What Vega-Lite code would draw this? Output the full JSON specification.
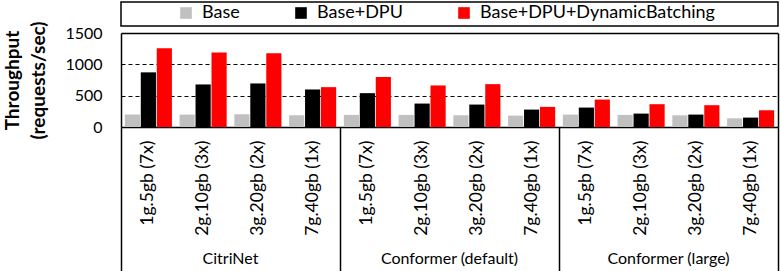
{
  "$schema": "https://vega.github.io/schema/vega-lite/v6.json",
  "padding": {"left": 3, "top": 1, "right": 2, "bottom": 0},
  "background": "white",
  "bounds": "flush",
  "spacing": 7,
  "config": {
    "font": "Lato",
    "view": {"stroke": null}
  },
  "datasets": {
    "tp": [
      {"group": "CitriNet", "config": "1g.5gb (7x)", "series": "Base", "value": 198},
      {"group": "CitriNet", "config": "1g.5gb (7x)", "series": "Base+DPU", "value": 872},
      {"group": "CitriNet", "config": "1g.5gb (7x)", "series": "Base+DPU+DynamicBatching", "value": 1257},
      {"group": "CitriNet", "config": "2g.10gb (3x)", "series": "Base", "value": 198},
      {"group": "CitriNet", "config": "2g.10gb (3x)", "series": "Base+DPU", "value": 679},
      {"group": "CitriNet", "config": "2g.10gb (3x)", "series": "Base+DPU+DynamicBatching", "value": 1187},
      {"group": "CitriNet", "config": "3g.20gb (2x)", "series": "Base", "value": 203},
      {"group": "CitriNet", "config": "3g.20gb (2x)", "series": "Base+DPU", "value": 695},
      {"group": "CitriNet", "config": "3g.20gb (2x)", "series": "Base+DPU+DynamicBatching", "value": 1176},
      {"group": "CitriNet", "config": "7g.40gb (1x)", "series": "Base", "value": 187},
      {"group": "CitriNet", "config": "7g.40gb (1x)", "series": "Base+DPU", "value": 599},
      {"group": "CitriNet", "config": "7g.40gb (1x)", "series": "Base+DPU+DynamicBatching", "value": 636},
      {"group": "Conformer (default)", "config": "1g.5gb (7x)", "series": "Base", "value": 193},
      {"group": "Conformer (default)", "config": "1g.5gb (7x)", "series": "Base+DPU", "value": 540},
      {"group": "Conformer (default)", "config": "1g.5gb (7x)", "series": "Base+DPU+DynamicBatching", "value": 797},
      {"group": "Conformer (default)", "config": "2g.10gb (3x)", "series": "Base", "value": 193},
      {"group": "Conformer (default)", "config": "2g.10gb (3x)", "series": "Base+DPU", "value": 374},
      {"group": "Conformer (default)", "config": "2g.10gb (3x)", "series": "Base+DPU+DynamicBatching", "value": 663},
      {"group": "Conformer (default)", "config": "3g.20gb (2x)", "series": "Base", "value": 187},
      {"group": "Conformer (default)", "config": "3g.20gb (2x)", "series": "Base+DPU", "value": 358},
      {"group": "Conformer (default)", "config": "3g.20gb (2x)", "series": "Base+DPU+DynamicBatching", "value": 684},
      {"group": "Conformer (default)", "config": "7g.40gb (1x)", "series": "Base", "value": 182},
      {"group": "Conformer (default)", "config": "7g.40gb (1x)", "series": "Base+DPU", "value": 278},
      {"group": "Conformer (default)", "config": "7g.40gb (1x)", "series": "Base+DPU+DynamicBatching", "value": 321},
      {"group": "Conformer (large)", "config": "1g.5gb (7x)", "series": "Base", "value": 198},
      {"group": "Conformer (large)", "config": "1g.5gb (7x)", "series": "Base+DPU", "value": 310},
      {"group": "Conformer (large)", "config": "1g.5gb (7x)", "series": "Base+DPU+DynamicBatching", "value": 438},
      {"group": "Conformer (large)", "config": "2g.10gb (3x)", "series": "Base", "value": 193},
      {"group": "Conformer (large)", "config": "2g.10gb (3x)", "series": "Base+DPU", "value": 214},
      {"group": "Conformer (large)", "config": "2g.10gb (3x)", "series": "Base+DPU+DynamicBatching", "value": 364},
      {"group": "Conformer (large)", "config": "3g.20gb (2x)", "series": "Base", "value": 187},
      {"group": "Conformer (large)", "config": "3g.20gb (2x)", "series": "Base+DPU", "value": 198},
      {"group": "Conformer (large)", "config": "3g.20gb (2x)", "series": "Base+DPU+DynamicBatching", "value": 348},
      {"group": "Conformer (large)", "config": "7g.40gb (1x)", "series": "Base", "value": 139},
      {"group": "Conformer (large)", "config": "7g.40gb (1x)", "series": "Base+DPU", "value": 150},
      {"group": "Conformer (large)", "config": "7g.40gb (1x)", "series": "Base+DPU+DynamicBatching", "value": 267}
    ]
  },
  "vconcat": [
    {
      "width": 657,
      "height": 24,
      "data": {"name": "tp"},
      "view": {"stroke": "black", "strokeWidth": 1.5},
      "mark": {"type": "square", "opacity": 0},
      "encoding": {
        "color": {
          "field": "series",
          "type": "nominal",
          "scale": {
            "domain": ["Base", "Base+DPU", "Base+DPU+DynamicBatching"],
            "range": ["#c0c0c0", "#000000", "#ff0000"]
          },
          "legend": {
            "orient": "none",
            "legendX": 56,
            "legendY": 2,
            "padding": 0,
            "direction": "horizontal",
            "title": null,
            "symbolType": "square",
            "symbolSize": 135,
            "symbolOpacity": 1,
            "symbolStrokeWidth": 0,
            "labelFontSize": 18,
            "labelLimit": 500,
            "labelColor": "black",
            "labelOffset": 7,
            "columnPadding": 52
          }
        }
      }
    },
    {
      "width": 657,
      "height": 94,
      "data": {"name": "tp"},
      "transform": [{"calculate": "datum.group + '|' + datum.config", "as": "key"}],
      "layer": [
        {
          "mark": {"type": "bar"},
          "encoding": {
            "x": {
              "field": "key",
              "type": "nominal",
              "sort": null,
              "scale": {"paddingInner": 0.14, "paddingOuter": 0.07},
              "axis": {
                "title": null,
                "labelExpr": "split(datum.label, '|')[1]",
                "labelAngle": -90,
                "ticks": false,
                "domain": false,
                "labelPadding": 13,
                "labelFontSize": 17.5,
                "labelColor": "black"
              }
            },
            "xOffset": {
              "field": "series",
              "type": "nominal",
              "sort": ["Base", "Base+DPU", "Base+DPU+DynamicBatching"],
              "scale": {"paddingInner": 0.05}
            },
            "y": {
              "field": "value",
              "type": "quantitative",
              "scale": {"domain": [0, 1500]},
              "axis": {
                "title": ["Throughput", "(requests/sec)"],
                "titleFontSize": 19,
                "titleLineHeight": 26,
                "titleFontWeight": "bold",
                "titleColor": "black",
                "titlePadding": 16,
                "values": [0, 500, 1000, 1500],
                "format": "d",
                "labelOverlap": false,
                "labelFontSize": 16,
                "labelColor": "black",
                "labelPadding": 19,
                "ticks": false,
                "domain": true,
                "domainColor": "black",
                "domainWidth": 1.5,
                "grid": true,
                "gridColor": "black",
                "gridDash": {"condition": {"test": "datum.value === 0 || datum.value === 1500", "value": []}, "value": [4, 3]},
                "gridWidth": {"condition": {"test": "datum.value === 0 || datum.value === 1500", "value": 1.5}, "value": 1}
              }
            },
            "color": {
              "field": "series",
              "type": "nominal",
              "scale": {
                "domain": ["Base", "Base+DPU", "Base+DPU+DynamicBatching"],
                "range": ["#c0c0c0", "#000000", "#ff0000"]
              },
              "legend": null
            }
          }
        },
        {
          "mark": {"type": "tick", "opacity": 0},
          "encoding": {
            "x": {
              "field": "group",
              "type": "nominal",
              "sort": null,
              "scale": {"paddingInner": 0, "paddingOuter": 0},
              "axis": {
                "orient": "bottom",
                "title": null,
                "labelAngle": 0,
                "bandPosition": 1,
                "tickExtra": true,
                "tickSize": 144,
                "tickColor": "black",
                "tickWidth": 1.5,
                "domain": false,
                "labelPadding": -21,
                "labelFontSize": 16,
                "labelColor": "black"
              }
            },
            "y": {
              "datum": 0,
              "type": "quantitative",
              "scale": {"domain": [0, 1500]},
              "axis": {
                "orient": "right",
                "title": null,
                "labels": false,
                "ticks": false,
                "grid": false,
                "domain": true,
                "domainColor": "black",
                "domainWidth": 1.5
              }
            }
          }
        }
      ],
      "resolve": {"scale": {"x": "independent", "y": "independent"}, "axis": {"x": "independent", "y": "independent"}}
    }
  ]
}
